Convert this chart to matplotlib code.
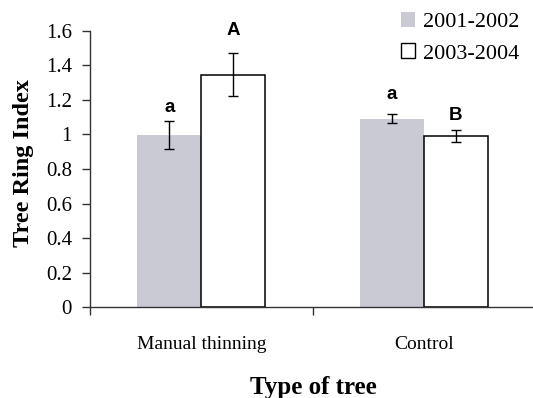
import matplotlib
matplotlib.use("Agg")
import matplotlib.pyplot as plt
from matplotlib.patches import Patch
import numpy as np

categories = ["Manual thinning", "Control"]
series_names = ["2001-2002", "2003-2004"]
vals_0102 = [0.995, 1.09]
err_0102 = [0.08, 0.026]
vals_0304 = [1.345, 0.99]
err_0304 = [0.125, 0.036]
letters_0102 = ["a", "a"]
letters_0304 = ["A", "B"]
yticks = [0, 0.2, 0.4, 0.6, 0.8, 1, 1.2, 1.4, 1.6]
ytick_labels = ["0", "0.2", "0.4", "0.6", "0.8", "1", "1.2", "1.4", "1.6"]

# label offsets above the error bars (points)
off_0102 = [4, 8.5]
off_0304 = [10, 4]

grey = "#c9cad3"
serif = "Liberation Serif"
sans = "Liberation Sans"

fig = plt.figure(figsize=(5.33, 3.98), dpi=100)
ax = fig.add_axes([0.1689, 0.2279, 0.835, 0.695])

x = np.arange(len(categories)) + 0.5
w = 0.288
ax.bar(x - w / 2, vals_0102, w, color=grey, edgecolor="none", zorder=2)
ax.bar(x + w / 2, vals_0304, w, color="white", edgecolor="black", linewidth=1.1, zorder=2)
ax.errorbar(x - w / 2, vals_0102, yerr=err_0102, fmt="none", ecolor="black",
            elinewidth=1, capsize=3.6, capthick=1, zorder=3)
ax.errorbar(x + w / 2, vals_0304, yerr=err_0304, fmt="none", ecolor="black",
            elinewidth=1, capsize=3.6, capthick=1, zorder=3)

for xi, v, e, t, o in zip(x - w / 2, vals_0102, err_0102, letters_0102, off_0102):
    ax.annotate(t, (xi, v + e), xytext=(0, o), textcoords="offset points",
                ha="center", va="bottom", fontsize=13.5, fontweight="bold", family=sans)
for xi, v, e, t, o in zip(x + w / 2, vals_0304, err_0304, letters_0304, off_0304):
    ax.annotate(t, (xi, v + e), xytext=(0, o), textcoords="offset points",
                ha="center", va="bottom", fontsize=13.5, fontweight="bold", family=sans)

ax.set_xlim(0, 2)
ax.set_ylim(0, 1.6)
ax.set_yticks(yticks)
ax.set_yticklabels(ytick_labels, family=serif, fontsize=15)
ax.set_xticks([0, 1, 2])
ax.set_xticklabels([])
ax.set_xticks(x, minor=True)
ax.set_xticklabels(categories, minor=True, family=serif, fontsize=14)
ax.tick_params(axis="x", which="minor", length=0, pad=21)
ax.tick_params(axis="x", which="major", length=6, width=1, direction="out", color="#333333")
ax.tick_params(axis="y", length=6, width=1, direction="out", color="#333333", pad=7)
for s in ["top", "right"]:
    ax.spines[s].set_visible(False)
for s in ["left", "bottom"]:
    ax.spines[s].set_color("#333333")
    ax.spines[s].set_linewidth(1)

ax.set_ylabel("Tree Ring Index", family=serif, fontsize=17.5, fontweight="bold")
ax.yaxis.set_label_coords(-0.125, 0.521)
ax.set_xlabel("Type of tree", family=serif, fontsize=18, fontweight="bold")
ax.xaxis.set_label_coords(0.502, -0.25)

handles = [Patch(facecolor=grey, edgecolor="none"),
           Patch(facecolor="white", edgecolor="black", linewidth=1)]
leg = fig.legend(handles, series_names, loc="upper right", bbox_to_anchor=(1.012, 1.02),
                 frameon=False, prop={"family": serif, "size": 16},
                 handlelength=0.65, handleheight=0.65, handletextpad=0.35, labelspacing=0.5)

fig.savefig("out.png", dpi=100)
